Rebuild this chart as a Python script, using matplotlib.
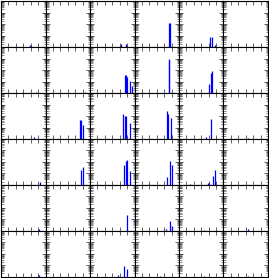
import matplotlib
matplotlib.use("Agg")
import matplotlib.pyplot as plt
from matplotlib.ticker import LogLocator, NullFormatter
import numpy as np

# Peak positions (x) and heights (counts, log scale) per panel, row by row
row0_x = [[39], [], [42, 48], [47, 48.5], [42, 44, 49], []]
row0_y = [[1.6], [], [1.9, 1.9], [130, 120], [7.6, 7.0, 1.4], []]
row1_x = [[47], [53], [47, 49, 50.5, 53.5, 56], [46, 47], [41, 43.3, 44.5], []]
row1_y = [[1.2], [1.2], [40, 40, 25, 11, 4.3], [900, 800], [6.3, 52, 91], []]
row2_x = [[44.5], [47, 48, 50.5], [44.5, 47, 48.5, 53.5], [44, 45.5, 49], [37, 43.5], [33.5]]
row2_y = [[1.6], [44, 44, 16], [158, 110, 100, 25], [250, 158, 63], [1.6, 60], [1.2]]
row3_x = [[52], [48, 51], [45.5, 48, 50, 53.5], [19.5, 44.5, 48.5, 50.5], [15.5, 39, 41, 46, 49], []]
row3_y = [[1.7], [19, 36], [58, 132, 158, 16], [1.3, 4.8, 120, 58], [1.3, 1.6, 1.6, 6.3, 19], []]
row4_x = [[51], [47], [49.5], [42, 48, 50.5], [33.5], [32.5]]
row4_y = [[1.4], [1.1], [23], [1.6, 7.0, 2.5], [1.3], [1.4]]
row5_x = [[51], [], [38, 45.5, 50], [35], [33.5], [32.5]]
row5_y = [[1.6], [], [1.6, 8.5, 5.2], [1.2], [1.2], [1.3]]

xs = [row0_x, row1_x, row2_x, row3_x, row4_x, row5_x]
ys = [row0_y, row1_y, row2_y, row3_y, row4_y, row5_y]
x_ticks = [10, 20, 30, 40, 50]

fig, axes = plt.subplots(6, 6, figsize=(2.69, 2.78), dpi=100)
fig.subplots_adjust(left=0.004, right=0.996, bottom=0.004, top=0.996,
                    wspace=0, hspace=0)

for r in range(6):
    for c in range(6):
        ax = axes[r, c]
        ax.set_yscale('log')
        px = xs[r][c]
        py = ys[r][c]
        if px:
            ax.vlines(px, 0.01, py, color='#0000ff', lw=0.9)
        ax.set_xlim(0, 60)
        ax.set_ylim(1, 1e4)
        ax.set_xticks(x_ticks)
        ax.yaxis.set_major_locator(LogLocator(base=10, numticks=20))
        ax.yaxis.set_minor_locator(LogLocator(base=10, subs=np.arange(2, 10), numticks=100))
        ax.yaxis.set_minor_formatter(NullFormatter())
        ax.tick_params(which='both', direction='in', top=True, right=True,
                       labelbottom=False, labelleft=False)
        ax.tick_params(which='major', length=3, width=0.5, color='#222222')
        ax.tick_params(which='minor', length=1.8, width=0.4, color='#333333')
        for s in ax.spines.values():
            s.set_linewidth(0.8)

fig.savefig("out.png", dpi=100)
